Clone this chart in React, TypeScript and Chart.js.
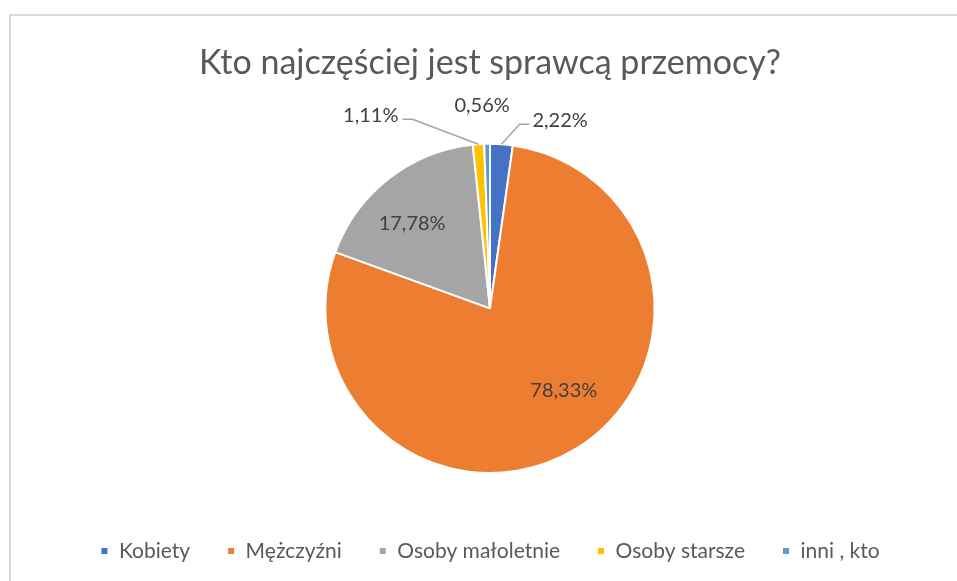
import React, { useEffect, useRef } from 'react';
import { Chart, registerables } from 'chart.js';

Chart.register(...registerables);

const TITLE = 'Kto najczęściej jest sprawcą przemocy?';
const categories = ['Kobiety', 'Mężczyźni', 'Osoby małoletnie', 'Osoby starsze', 'inni , kto'];
const values = [2.22, 78.33, 17.78, 1.11, 0.56];
const colors = ['#4472C4', '#ED7D31', '#A5A5A5', '#FFC000', '#5B9BD5'];

// label placement rules (styling, not data)
const labelPlacement: any[] = [
  { mode: 'outside', dx: 18, dy: -20, side: 'right', line: true },
  { mode: 'inside', r: 0.67, da: -11 },
  { mode: 'inside', r: 0.7, da: -4.5 },
  { mode: 'outside', dx: -66, dy: -25, side: 'left', line: true },
  { mode: 'outside', dx: -5, dy: -38, side: 'center', line: false },
];

const FONT = 'Lato, "Open Sans", sans-serif';

const fmt = (v: number) => v.toFixed(2).replace('.', ',') + '%';

const labelsPlugin = {
  id: 'pieLabels',
  afterDatasetsDraw(chart: any) {
    const ctx = chart.ctx;
    const meta = chart.getDatasetMeta(0);
    ctx.save();
    ctx.font = `20px ${FONT}`;
    ctx.fillStyle = '#404040';
    meta.data.forEach((arc: any, i: number) => {
      const p = arc.getProps(['x', 'y', 'startAngle', 'endAngle', 'outerRadius'], true);
      const mid = (p.startAngle + p.endAngle) / 2;
      const spec = labelPlacement[i];
      const text = fmt(values[i]);
      if (spec.mode === 'inside') {
        const a = mid + (spec.da * Math.PI) / 180;
        const r = p.outerRadius * spec.r;
        ctx.textAlign = 'center';
        ctx.textBaseline = 'middle';
        ctx.fillText(text, p.x + Math.cos(a) * r, p.y + Math.sin(a) * r);
      } else {
        const ox = p.x + Math.cos(mid) * p.outerRadius;
        const oy = p.y + Math.sin(mid) * p.outerRadius;
        const ex = ox + spec.dx;
        const ey = oy + spec.dy;
        ctx.textBaseline = 'middle';
        if (spec.line) {
          const hx = ex + (spec.side === 'right' ? 10 : -10);
          ctx.strokeStyle = '#A6A6A6';
          ctx.lineWidth = 1.5;
          ctx.beginPath();
          ctx.moveTo(ox, oy);
          ctx.lineTo(ex, ey);
          ctx.lineTo(hx, ey);
          ctx.stroke();
          ctx.textAlign = spec.side === 'right' ? 'left' : 'right';
          ctx.fillText(text, hx + (spec.side === 'right' ? 3 : -4), ey - 4);
        } else {
          ctx.textAlign = 'center';
          ctx.fillText(text, ex, ey);
        }
      }
    });
    ctx.restore();
  },
};

export default function App() {
  const ref = useRef<HTMLCanvasElement>(null);
  useEffect(() => {
    if (!ref.current) return;
    const chart = new Chart(ref.current, {
      type: 'pie',
      data: {
        labels: categories,
        datasets: [
          {
            data: values,
            backgroundColor: colors,
            borderColor: '#FFFFFF',
            borderWidth: 2,
          },
        ],
      },
      options: {
        responsive: false,
        animation: false,
        layout: { padding: { left: 23, right: 0, top: 0, bottom: 9.5 } },
        plugins: {
          tooltip: { enabled: false },
          title: {
            display: true,
            text: TITLE,
            color: '#595959',
            font: { family: FONT, size: 34, weight: 'normal', lineHeight: 1.2 },
            padding: { top: 43, bottom: 59 },
          },
          legend: {
            position: 'bottom',
            title: { display: true, text: ' ', font: { size: 10, lineHeight: 1.2 }, padding: { top: 17.5, bottom: 0 } },
            labels: {
              color: '#595959',
              font: { family: FONT, size: 21 },
              boxWidth: 8,
              boxHeight: 8,
              padding: 37,
            },
          },
        },
      },
      plugins: [labelsPlugin],
    });
    return () => chart.destroy();
  }, []);
  return (
    <div style={{ position: 'absolute', left: 0, top: 0, width: 957, height: 581, background: '#fff', overflow: 'hidden' }}>
      <div
        style={{
          position: 'absolute',
          left: 9,
          top: 14,
          width: 980,
          height: 600,
          border: '2px solid #D9D9D9',
          boxSizing: 'border-box',
        }}
      />
      <canvas ref={ref} width={957} height={581} style={{ position: 'absolute', left: 0, top: 0 }} />
    </div>
  );
}
